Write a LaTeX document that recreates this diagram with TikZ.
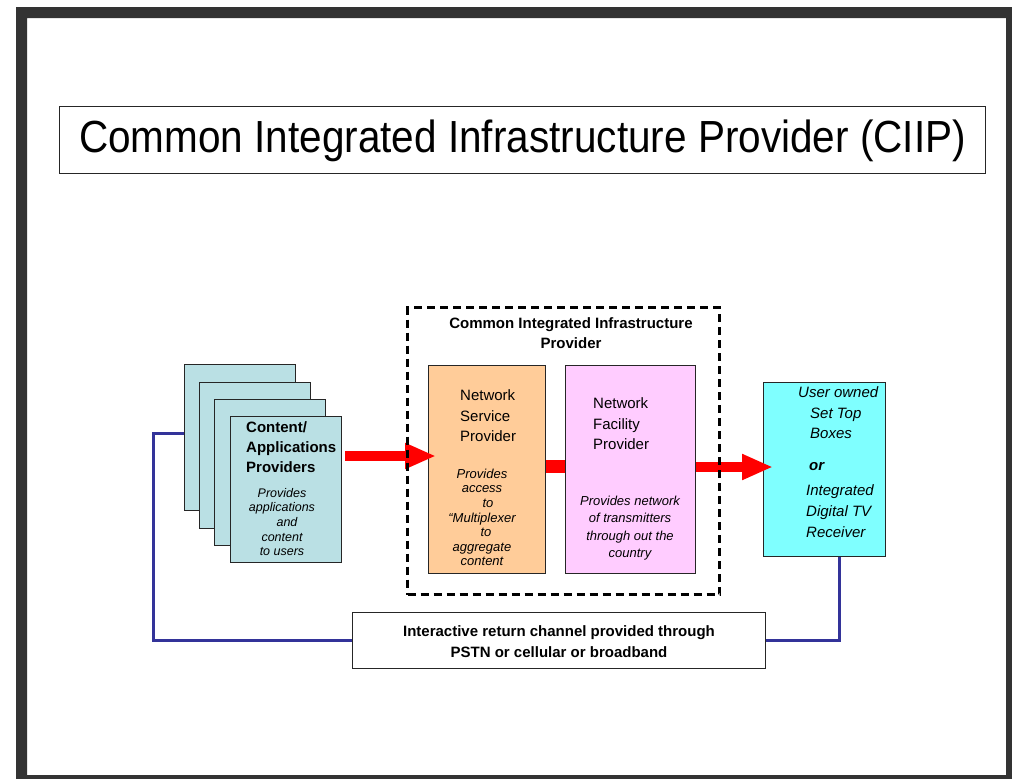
\documentclass[tikz,border=0pt]{standalone}
\usepackage{fontspec}
\setmainfont{Liberation Sans}
\newfontfamily\titlefont[FakeStretch=0.9]{Liberation Sans}
\usetikzlibrary{arrows.meta,calc}
\definecolor{framegray}{HTML}{333333}
\definecolor{cardfill}{RGB}{186,224,228}
\definecolor{nspfill}{HTML}{FFCC99}
\definecolor{nfpfill}{HTML}{FFCCFF}
\definecolor{rcvfill}{HTML}{7FFFFF}
\definecolor{navyline}{HTML}{333399}
\newcommand\setfs[2]{\fontsize{#1pt}{#2pt}\selectfont}
\begin{document}
\begin{tikzpicture}[x=1pt,y=-1pt,
  box/.style={draw=black!85, line width=1pt, anchor=north west, inner sep=0pt},
  card/.style={box, fill=cardfill, minimum width=111pt, minimum height=146pt},
  plain/.style={inner sep=0pt, align=left, font=\setfs{15}{20.5}},
  ital/.style={inner sep=0pt, align=center, font=\setfs{13}{14.6}\itshape},
  redarrow/.style={red, line width=10pt, -{Triangle[length=31pt,width=24pt]}},
  returnline/.style={navyline, line width=3pt},
  dashbox/.style={draw=black, line width=3pt, dash pattern=on 8pt off 5pt, anchor=north west, inner sep=0pt}
]
\useasboundingbox (0,0) rectangle (1012,779);
\fill[white] (0,0) rectangle (1012,779);
\fill[framegray, even odd rule] (16,7) rectangle (1012,779) (27,18) rectangle (1006,775);

% title
\node[box, minimum width=926pt, minimum height=67pt] (title) at (59,106) {};
\node (titletext) at ($(title.center)+(0,1)$) {\titlefont\setfs{45}{50}Common Integrated Infrastructure Provider (CIIP)};

% content provider cards
\node[card] (card1) at (184,364) {};
\node[card] (card2) at (199,382) {};
\node[card] (card3) at (214,399) {};
\node[card] (card4) at (230,416) {};
\node[plain, anchor=west, font=\setfs{15}{20}\bfseries] (cpt) at (246,447) {Content/\\Applications\\Providers};
\node[ital, font=\setfs{12.5}{14.7}\itshape] (cpd) at (282,522) {Provides\\applications\\\hspace*{10pt}and\\content\\to users};

% CIIP boxes
\node[box, fill=nspfill, minimum width=117pt, minimum height=208pt] (nsp) at (428,365) {};
\node[box, fill=nfpfill, minimum width=130pt, minimum height=208pt] (nfp) at (565,365) {};
\node[plain, anchor=west] (nspt) at (460,416) {Network\\Service\\Provider};
\node[ital] (nspd) at (482,517.5) {Provides\\access\\\hspace*{12pt}to\\``Multiplexer\\\hspace*{8pt}to\\aggregate\\content};
\node[plain, anchor=west] (nfpt) at (593,424) {Network\\Facility\\Provider};
\node[ital, font=\setfs{13}{17.3}\itshape] (nfpd) at (630,528) {Provides network\\of transmitters\\through out the\\country};

% receiver
\node[box, fill=rcvfill, minimum width=122pt, minimum height=174pt] (rcv) at (763,382) {};
\node[plain, anchor=west, font=\setfs{15}{20.5}\itshape] (rcvt1) at (810,413) {\hspace*{-12pt}User owned\\Set Top\\Boxes};
\node[plain, anchor=west, font=\setfs{15}{20}\bfseries\itshape] (rcvor) at (809,467) {or};
\node[plain, anchor=west, font=\setfs{15}{21}\itshape] (rcvt2) at (806,511) {Integrated\\Digital TV\\Receiver};

% return channel box
\node[box, minimum width=413pt, minimum height=56pt] (ret) at (352,612) {};
\node[align=center, inner sep=0pt, font=\setfs{15}{21}\bfseries] (rett) at ($(ret.center)+(0,1)$) {Interactive return channel provided through\\PSTN or cellular or broadband};

% red flow arrows
\coordinate (ya) at (0,456);
\coordinate (yb) at (0,466);
\coordinate (yc) at (0,467);
\draw[redarrow] ($(card4.east |- ya)+(3,0)$) -- ($(nsp.west |- ya)+(8,0)$);
\draw[red, line width=13pt] (nsp.east |- yb) -- (nfp.west |- yb);
\draw[redarrow] (nfp.east |- yc) -- ($(rcv.west |- yc)+(10,0)$);

% dashed CIIP group
\node[dashbox, minimum width=312pt, minimum height=287pt] (ciip) at (406,306) {};
\node[align=center, inner sep=0pt, font=\setfs{15}{20}\bfseries] (ciipt) at (571,333) {Common Integrated Infrastructure\\Provider};

% return channel lines
\coordinate (yr) at (0,433);
\draw[returnline] (card1.west |- yr) -- ++(-31,0) |- (ret.west);
\draw[returnline] (ret.east) -| ($(rcv.south)+(15,0)$);
\end{tikzpicture}
\end{document}
